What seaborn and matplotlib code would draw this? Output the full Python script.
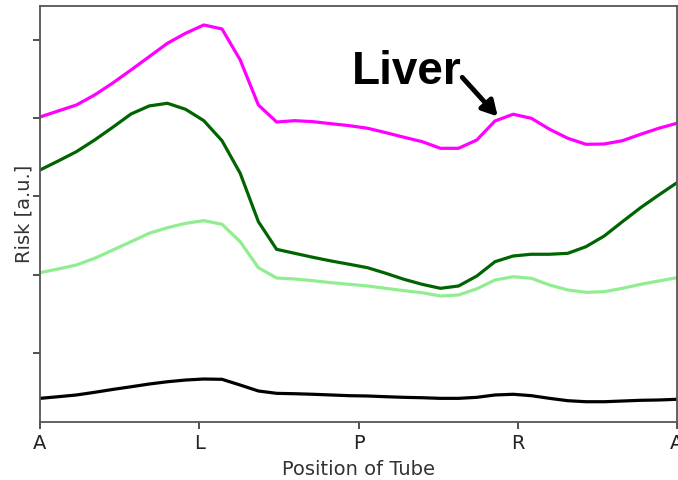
import numpy as np
import pandas as pd
import matplotlib
matplotlib.use("Agg")
import matplotlib.pyplot as plt
import seaborn as sns

# Position index along the tube (36 samples), tick labels at the landmarks
tick_labels = ["A", "L", "P", "R", "A"]
n_points = 36

magenta = [3.014, 3.091, 3.167, 3.295, 3.448, 3.614, 3.784, 3.955, 4.083, 4.189,
           4.138, 3.742, 3.167, 2.950, 2.967, 2.954, 2.928, 2.903, 2.870, 2.814,
           2.755, 2.699, 2.614, 2.614, 2.720, 2.963, 3.049, 2.997, 2.857, 2.742,
           2.665, 2.669, 2.711, 2.793, 2.870, 2.934]
dark_green = [2.337, 2.452, 2.571, 2.720, 2.883, 3.052, 3.155, 3.189, 3.112, 2.967,
              2.711, 2.295, 1.677, 1.324, 1.273, 1.222, 1.175, 1.133, 1.089, 1.018,
              0.941, 0.877, 0.826, 0.856, 0.983, 1.166, 1.239, 1.261, 1.261, 1.273,
              1.358, 1.494, 1.677, 1.856, 2.018, 2.175]
light_green = [1.026, 1.073, 1.124, 1.209, 1.315, 1.421, 1.529, 1.600, 1.656, 1.690,
               1.644, 1.421, 1.089, 0.958, 0.945, 0.923, 0.898, 0.877, 0.856, 0.826,
               0.796, 0.770, 0.728, 0.741, 0.820, 0.932, 0.974, 0.954, 0.868, 0.805,
               0.775, 0.783, 0.826, 0.877, 0.920, 0.962]
black = [-0.579, -0.558, -0.536, -0.502, -0.465, -0.431, -0.396, -0.367, -0.345, -0.332,
         -0.336, -0.409, -0.485, -0.515, -0.520, -0.527, -0.536, -0.545, -0.549, -0.558,
         -0.566, -0.571, -0.579, -0.579, -0.566, -0.536, -0.527, -0.545, -0.579, -0.609,
         -0.622, -0.622, -0.613, -0.604, -0.600, -0.591]

series_names = ["magenta", "dark_green", "light_green", "black"]
series_values = [magenta, dark_green, light_green, black]
colors = {"magenta": "#ff00ff", "dark_green": "#006400",
          "light_green": "#90ee90", "black": "#000000"}

pos = np.arange(n_points)
df = pd.concat([pd.DataFrame({"pos": pos, "risk": vals, "series": name})
                for name, vals in zip(series_names, series_values)], ignore_index=True)

sns.set_style("ticks")
plt.rcParams["font.family"] = ["DejaVu Sans"]

fig = plt.figure(figsize=(6.78, 4.8), dpi=100)
ax = fig.add_axes([40 / 678, 58 / 480, 637 / 678, 416.3 / 480])

sns.lineplot(data=df, x="pos", y="risk", hue="series", palette=colors,
             linewidth=2.3, legend=False, ax=ax, sort=False)

ax.set_xlim(0, n_points - 1)
ax.set_ylim(-0.881, 4.435)
ax.set_xticks(np.linspace(0, n_points - 1, len(tick_labels)))
ax.set_xticklabels(tick_labels, fontsize=14, color="#222222")
ax.set_yticks([0, 1, 2, 3, 4])
ax.set_yticklabels([])
ax.tick_params(axis="both", length=5, width=1.2, color="#333333")
ax.set_xlabel("Position of Tube", fontsize=14, color="#333333", labelpad=5)
ax.set_ylabel("Risk [a.u.]", fontsize=14, color="#333333", labelpad=-4)
for sp in ax.spines.values():
    sp.set_color("#555555")
    sp.set_linewidth(1.3)

# Liver annotation with arrow pointing to magenta curve
ax.annotate("", xy=(25.15, 3.02), xytext=(23.2, 3.52),
            arrowprops=dict(arrowstyle="-|>,head_width=0.5,head_length=0.9",
                            color="black", lw=3.5, shrinkA=0, shrinkB=0))
ax.text(17.15, 3.585, "Liver", fontsize=33, fontweight="bold", color="black",
        family=["Liberation Sans", "DejaVu Sans"], ha="left", va="center")

fig.savefig("out.png", dpi=100)
